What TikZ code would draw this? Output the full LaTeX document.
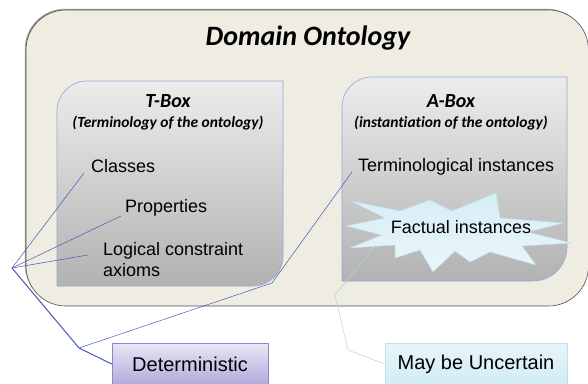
\documentclass[tikz,border=0pt]{standalone}
\usepackage{fontspec}
\setmainfont{Liberation Sans}
\newfontfamily\calfont[Ligatures=NoCommon]{Carlito}
\definecolor{beige}{HTML}{EFECE2}
\definecolor{outline}{HTML}{505050}
\definecolor{shadowgray}{HTML}{A0A0A0}
\definecolor{boxtop}{HTML}{ECECEC}
\definecolor{boxbot}{HTML}{B2B2B2}
\definecolor{boxline}{HTML}{8EAADB}
\definecolor{detA}{HTML}{E9E6F6}
\definecolor{detB}{HTML}{B0AADB}
\definecolor{detline}{HTML}{8C87C8}
\definecolor{uncA}{HTML}{E8F5FA}
\definecolor{uncB}{HTML}{D0ECF4}
\definecolor{uncline}{HTML}{BDE2ED}
\definecolor{starA}{HTML}{D6EDF5}
\definecolor{starB}{HTML}{E9F6FA}
\definecolor{linkblue}{HTML}{4659B5}
\definecolor{linkcyan}{HTML}{A6D9E6}
\begin{document}
\begin{tikzpicture}[x=1pt,y=-1pt,line join=round,line cap=round,
	txt/.style={inner sep=0pt,font=\fontsize{18}{21}\selectfont},
	head/.style={inner sep=0pt,font=\calfont\bfseries\itshape\fontsize{20}{24}\selectfont},
	sub/.style={inner sep=0pt,font=\calfont\bfseries\itshape\fontsize{15.5}{18}\selectfont},
	boxpart/.style={top color=boxtop,bottom color=boxbot,draw=boxline,line width=.6pt},
	tag/.style={minimum height=42pt,inner sep=0pt,line width=.6pt,font=\fontsize{20}{24}\selectfont},
	link/.style={draw=linkblue,line width=.5pt}]
	\useasboundingbox (0,0) rectangle (588,383);
	\def\rr{30} % ban kinh goc bo tron
	% khung ngoai
	\fill[shadowgray,rounded corners=40pt] (24.8,8.8) rectangle (587,304.5);
	\draw[fill=beige,draw=outline,line width=.6pt,rounded corners=40pt] (26,10) rectangle (588.5,306);
	\node[inner sep=0pt,font=\calfont\bfseries\itshape\fontsize{28}{33}\selectfont,anchor=base] (title) at (308,45) {Domain Ontology};
	% hop T-Box
	\shade[boxpart] (57,286) -- (57,111) arc[start angle=180,end angle=270,radius=\rr] -- (283,81) -- (283,256) arc[start angle=0,end angle=90,radius=\rr] -- cycle;
	\node[head,anchor=base] (tbox) at (168,107) {T-Box};
	\node[sub,anchor=base] (tsub) at (168,127) {(Terminology of the ontology)};
	\node[txt,anchor=base west] (classes) at (91,172) {Classes};
	\node[txt,anchor=base west] (props) at (125,212) {Properties};
	\node[txt,anchor=north west,align=left] (logic) at (103,242) {Logical constraint\\axioms};
	% hop A-Box
	\shade[boxpart] (342,281) -- (342,107) arc[start angle=180,end angle=270,radius=\rr] -- (567,77) -- (567,247) arc[start angle=0,end angle=90,radius=34] -- cycle;
	\node[head,anchor=base] (abox) at (451,107) {A-Box};
	\node[sub,anchor=base] (asub) at (451,127) {(instantiation of the ontology)};
	\node[txt,anchor=base west] (term) at (358,171) {Terminological instances};
	% ngoi sao
	\shade[top color=starA,bottom color=starB,draw=uncline,line width=.5pt]
	(351,201) -- (400,211) -- (430,200) -- (452,211) -- (496,193) -- (500,218)
	-- (563,223) -- (528,232) -- (571,243) -- (522,246) -- (536,265) -- (490,252)
	-- (470,262) -- (455,251) -- (433,272) -- (420,250) -- (395,258) -- (395,245)
	-- (350,248) -- (382,235) -- (346,226) -- (385,218) -- cycle;
	\node[txt,anchor=base] (fact) at (461,233) {Factual instances};
	% hai nhan duoi
	\node[tag,draw=detline,top color=detA,bottom color=detB,minimum width=156pt] (det) at (190,364) {Deterministic};
	\node[tag,draw=uncline,top color=uncA,bottom color=uncB,minimum width=182pt] (unc) at (476,364) {May be Uncertain};
	% duong noi
	\coordinate (fork) at (12,268);
	\coordinate (knee) at (79,348);
	\coordinate (bend) at (272,283);
	\coordinate (ua) at (348,350);
	\coordinate (ub) at (335,295);
	\draw[link] (fork) -- ([xshift=-7pt,yshift=-1pt]classes.base west);
	\draw[link] (fork) -- ([xshift=-4pt,yshift=-4pt]props.base west);
	\draw[link] (fork) -- ([xshift=-15pt,yshift=-13pt]logic.north west);
	\draw[link,line width=1pt] (fork) -- (knee) -- (det.west);
	\draw[link] (knee) -- (bend) -- ([xshift=-6pt,yshift=-1pt]term.base west);
	\draw[draw=linkcyan,line width=.5pt] (unc.west) -- (ua) -- (ub) -- ([xshift=-15pt,yshift=-12pt]fact.base west);
\end{tikzpicture}
\end{document}
